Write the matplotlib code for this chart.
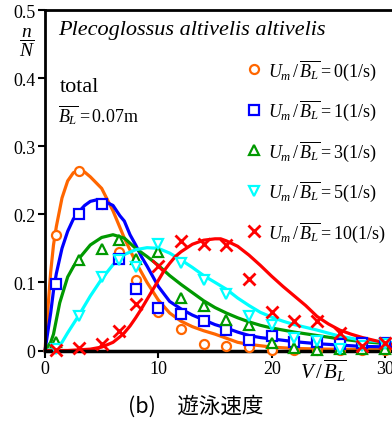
import matplotlib.pyplot as plt
from matplotlib.transforms import blended_transform_factory

plt.rcParams['font.family'] = ['Liberation Serif']
plt.rcParams['mathtext.fontset'] = 'custom'
plt.rcParams['mathtext.rm'] = 'Liberation Serif'
plt.rcParams['mathtext.it'] = 'Liberation Serif:italic'

# measured frequencies n/N against V/B_L
x_obs = [1, 3, 5, 6.5, 8, 10, 12, 14, 16, 18, 20, 22, 24, 26, 28, 30]
n_u0 = [0.169, 0.263, 0.215, 0.144, 0.103, 0.057, 0.031, 0.010, 0.007, 0.005,
        0.001, 0.001, 0.001, 0.001, 0.001, 0.001]
n_u1 = [0.097, 0.200, 0.215, 0.135, 0.091, 0.063, 0.054, 0.043, 0.030, 0.015,
        0.021, 0.013, 0.013, 0.010, 0.011, 0.011]
n_u3 = [0.012, 0.133, 0.149, 0.162, 0.135, 0.144, 0.077, 0.065, 0.045, 0.037,
        0.011, 0.003, 0.001, 0.002, 0.002, 0.002]
n_u5 = [0.002, 0.051, 0.108, 0.133, 0.123, 0.156, 0.129, 0.104, 0.083, 0.050,
        0.038, 0.019, 0.014, 0.002, 0.007, 0.010]
n_u10 = [0.001, 0.004, 0.009, 0.029, 0.069, 0.124, 0.161, 0.157, 0.155, 0.105,
         0.056, 0.044, 0.044, 0.026, 0.007, 0.011]

# fitted distribution curves
fx_u0 = [0, 0.25, 0.5, 0.75, 1, 1.5, 2, 2.5, 3, 3.5, 4, 5, 6, 6.5, 7, 8, 9, 10,
         11, 12, 13, 14, 15, 16, 17, 18, 20, 22, 25, 31]
fy_u0 = [0, 0.06, 0.115, 0.155, 0.182, 0.224, 0.249, 0.261, 0.265, 0.262, 0.255,
         0.238, 0.205, 0.185, 0.165, 0.13, 0.1, 0.074, 0.055, 0.043, 0.035,
         0.029, 0.024, 0.018, 0.012, 0.009, 0.005, 0.003, 0.002, 0.001]
fx_u1 = [0, 0.5, 0.75, 1, 1.5, 2, 2.5, 3, 3.5, 4, 4.5, 5, 6, 6.6, 7, 7.5, 8, 8.5,
         9, 10, 11, 12, 13, 14, 15, 16, 17, 18, 19, 20, 22, 24, 26, 28, 31]
fy_u1 = [0, 0.055, 0.088, 0.113, 0.15, 0.175, 0.193, 0.204, 0.213, 0.219, 0.221,
         0.221, 0.213, 0.198, 0.19, 0.17, 0.155, 0.138, 0.124, 0.094, 0.072,
         0.061, 0.052, 0.045, 0.038, 0.033, 0.027, 0.022, 0.019, 0.017, 0.013,
         0.01, 0.008, 0.006, 0.005]
fx_u3 = [0, 0.5, 0.75, 1, 1.3, 2, 2.5, 3, 4, 5, 6, 7, 8, 9, 10, 11, 12, 13, 14,
         15, 16, 17, 18, 19, 20, 22, 24, 26, 28, 31]
fy_u3 = [0, 0.012, 0.024, 0.045, 0.07, 0.108, 0.123, 0.135, 0.155, 0.166, 0.17,
         0.165, 0.15, 0.138, 0.125, 0.11, 0.097, 0.085, 0.073, 0.063, 0.055,
         0.048, 0.042, 0.037, 0.033, 0.027, 0.022, 0.017, 0.013, 0.009]
fx_u5 = [0, 0.5, 1, 1.5, 2, 3, 4, 5, 6, 7, 8, 9, 10, 11, 12, 13, 14, 15, 16, 17,
         18, 19, 20, 21, 22, 24, 26, 28, 31]
fy_u5 = [0, 0.001, 0.005, 0.012, 0.026, 0.052, 0.08, 0.105, 0.126, 0.141, 0.148,
         0.151, 0.15, 0.143, 0.133, 0.122, 0.11, 0.1, 0.09, 0.077, 0.066, 0.056,
         0.049, 0.043, 0.038, 0.03, 0.021, 0.015, 0.011]
fx_u10 = [0, 2, 3, 4, 5, 6, 6.6, 7, 7.5, 8, 8.5, 9, 9.5, 10, 10.5, 11, 11.5, 12,
          13, 14, 15, 15.5, 16, 17, 18, 19, 20, 21, 22, 23, 24, 25, 26, 27, 28,
          29, 30, 31]
fy_u10 = [0, 0, 0.001, 0.002, 0.005, 0.012, 0.02, 0.026, 0.036, 0.048, 0.061,
          0.075, 0.089, 0.103, 0.117, 0.128, 0.138, 0.145, 0.156, 0.162, 0.164,
          0.164, 0.161, 0.153, 0.14, 0.125, 0.109, 0.094, 0.08, 0.066, 0.05,
          0.039, 0.03, 0.024, 0.019, 0.015, 0.011, 0.008]

rates = ['0', '1', '3', '5', '10']
colors = ['#ff6600', '#0000ff', '#009900', '#00ffff', '#ff0000']
markers = ['o', 's', '^', 'v', 'x']
msizes = [6.5, 7, 7, 7, 8]
mwidths = [1.6, 1.6, 1.6, 1.6, 2.0]
obs = [n_u0, n_u1, n_u3, n_u5, n_u10]
fits = [(fx_u0, fy_u0), (fx_u1, fy_u1), (fx_u3, fy_u3), (fx_u5, fy_u5), (fx_u10, fy_u10)]

fig = plt.figure(figsize=(3.92, 4.27), dpi=100)
ax = fig.add_axes([45 / 392, 75.5 / 427, 348 / 392, 340.5 / 427])

for (fx, fy), c in zip(fits, colors):
    ax.plot(fx, fy, color=c, lw=2.3, zorder=2, clip_on=False)

handles = []
for y, c, m, ms, mw, r in zip(obs, colors, markers, msizes, mwidths, rates):
    h, = ax.plot(x_obs, y, ls='none', marker=m, ms=ms, mfc='white', mec=c,
                 mew=mw, color=c, zorder=3, clip_on=False,
                 label=r'$U_m\,/\,\overline{B_L}=' + r + r'(1/\mathrm{s})$')
    handles.append(h)

ax.set_xlim(0, 30.7)
ax.set_ylim(0, 0.5)
ax.set_xticks([0, 10, 20, 30])
ax.set_yticks([0, 0.1, 0.2, 0.3, 0.4, 0.5])
ax.set_yticklabels(['0', '0.1', '0.2', '0.3', '0.4', '0.5'])
ax.tick_params(direction='out', length=5, width=1.5, labelsize=13, pad=2)
for s in ['left', 'top']:
    ax.spines[s].set_linewidth(2)
ax.spines['bottom'].set_linewidth(2.5)
ax.spines['right'].set_visible(False)

ax.text(0.037, 0.942, 'Plecoglossus altivelis altivelis', transform=ax.transAxes,
        fontsize=16, style='italic', va='center', ha='left')
ax.text(0.043, 0.774, 'total', transform=ax.transAxes, fontsize=16,
        va='center', ha='left')
ax.text(0.038, 0.694, r'$\overline{B_L}=0.07\mathrm{m}$', transform=ax.transAxes,
        fontsize=13, va='center', ha='left')

leg = ax.legend(handles=handles, loc='upper left', bbox_to_anchor=(0.58, 0.862),
                frameon=False, fontsize=13, handlelength=0.8, handletextpad=0.35,
                labelspacing=0.88, borderaxespad=0, borderpad=0)

trans = blended_transform_factory(ax.transData, fig.transFigure)
ax.text(24.6, (427 - 371) / 427, r'$V\,/\,\overline{B_L}$', transform=trans,
        fontsize=15, ha='center', va='center')
fig.text(27 / 392, (427 - 43) / 427, r'$\dfrac{n}{N}$', fontsize=14,
         ha='center', va='center')
fig.text(0.5, (427 - 407) / 427, '(b)　遊泳速度', fontsize=15.5,
         family=['Noto Sans CJK JP', 'DejaVu Sans'], ha='center', va='center')

fig.savefig('out.png', dpi=100)
